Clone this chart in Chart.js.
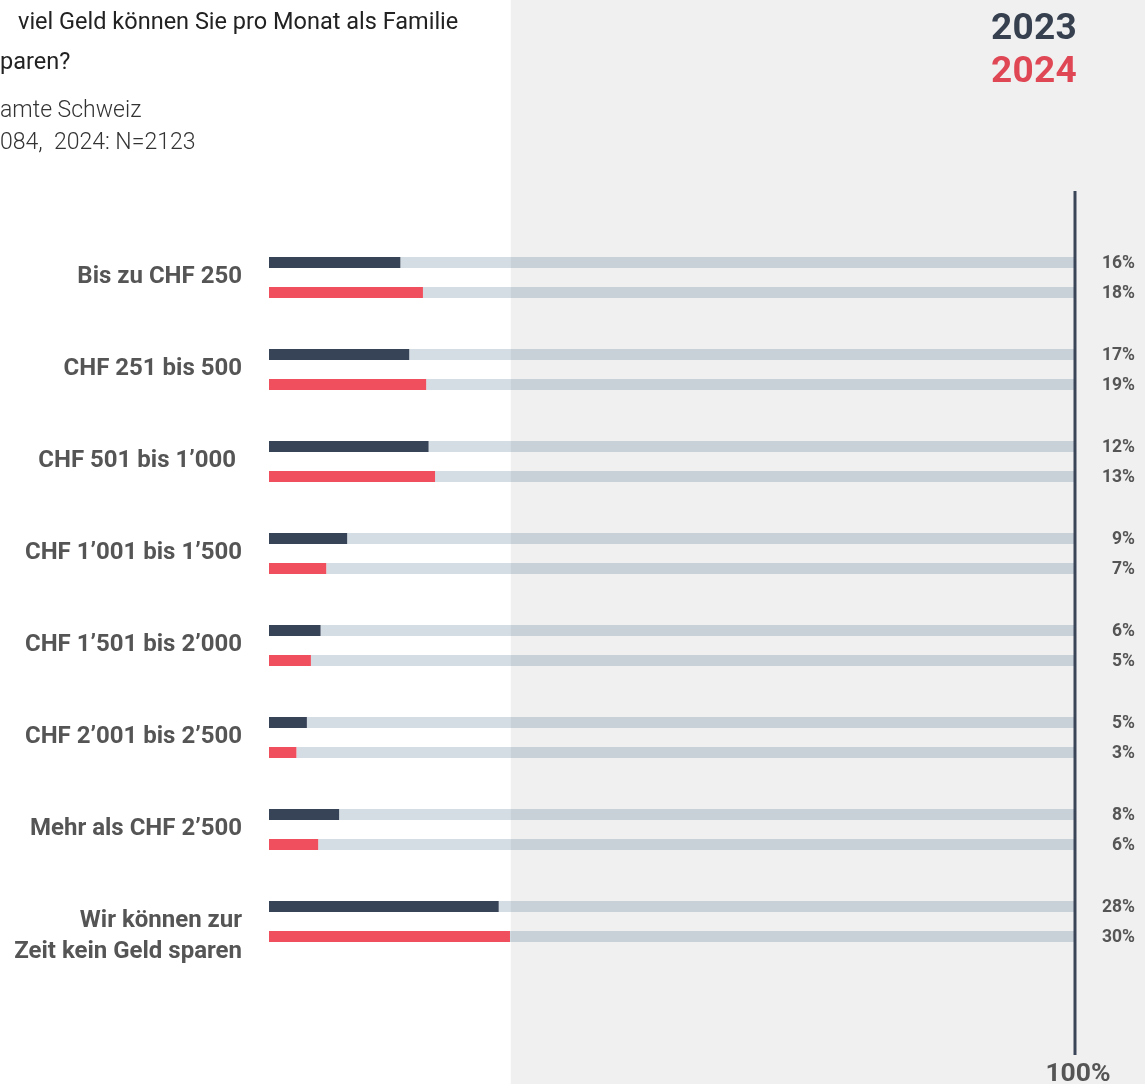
<!DOCTYPE html>
<html>
<head>
<meta charset="utf-8">
<script src="https://cdn.jsdelivr.net/npm/chart.js@4"></script>
<style>
html,body{margin:0;padding:0;background:#fff;}
#wrap{position:relative;width:1145px;height:1084px;overflow:hidden;}
canvas{position:absolute;left:0;top:0;}
.t{position:absolute;font-family:Roboto,"Open Sans",sans-serif;white-space:pre;line-height:1;}
.title{font-size:23.5px;color:#222;font-weight:400;}
.sub{font-size:23px;color:#333;font-weight:300;}
.leg{font-size:37px;font-weight:700;letter-spacing:0.3px;}
</style>
</head>
<body>
<div id="wrap">
<canvas id="c" width="1145" height="1084"></canvas>
<div class="t title" style="left:18px;top:10px;">viel Geld können Sie pro Monat als Familie</div>
<div class="t title" style="left:0px;top:50px;">paren?</div>
<div class="t sub" style="left:0px;top:98px;">amte Schweiz</div>
<div class="t sub" style="left:0px;top:130px;">084,  2024: N=2123</div>
<div class="t leg" style="left:991px;top:8px;color:#36404f;">2023</div>
<div class="t leg" style="left:991px;top:51px;color:#e04755;">2024</div>
</div>
<script>
const categories = [
  'Bis zu CHF 250',
  'CHF 251 bis 500',
  'CHF 501 bis 1’000 ',
  'CHF 1’001 bis 1’500',
  'CHF 1’501 bis 2’000',
  'CHF 2’001 bis 2’500',
  'Mehr als CHF 2’500',
  ['', 'Wir können zur', 'Zeit kein Geld sparen']
];
const seriesNames = ['2023', '2024'];
// bar lengths as drawn in the picture (percent of full scale)
const values2023 = [16.3, 17.4, 19.8, 9.7, 6.4, 4.7, 8.7, 28.5];
const values2024 = [19.1, 19.5, 20.6, 7.1, 5.2, 3.4, 6.1, 29.9];
// value labels as printed
const labels2023 = ['16%', '17%', '12%', '9%', '6%', '5%', '8%', '28%'];
const labels2024 = ['18%', '19%', '13%', '7%', '5%', '3%', '6%', '30%'];
const scaleMax = 100;
const panelStart = 30;
const endTickLabel = '100%';

const COL23 = '#374357';
const COL24 = '#f0505e';
const TRACK = 'rgba(40,80,120,0.2)';
const FONT = 'Roboto, "Open Sans", sans-serif';

const rest = arr => arr.map(v => scaleMax - v);

const decor = {
  id: 'decor',
  beforeDraw(chart) {
    const {ctx, scales: {x}} = chart;
    const px = x.getPixelForValue(panelStart);
    ctx.save();
    ctx.fillStyle = '#f0f0f0';
    ctx.fillRect(px, 0, chart.width - px, chart.height);
    ctx.restore();
  },
  afterDatasetsDraw(chart) {
    const {ctx, chartArea, scales: {x}} = chart;
    const px = x.getPixelForValue(scaleMax);
    ctx.save();
    ctx.strokeStyle = '#3a4558';
    ctx.lineWidth = 3;
    ctx.beginPath();
    ctx.moveTo(px, chartArea.top - 48);
    ctx.lineTo(px, chartArea.bottom + 80);
    ctx.stroke();
    // value labels
    ctx.font = '700 17.5px ' + FONT;
    ctx.fillStyle = '#555';
    ctx.textAlign = 'right';
    ctx.textBaseline = 'middle';
    const m23 = chart.getDatasetMeta(0), m24 = chart.getDatasetMeta(2);
    m23.data.forEach((b, i) => ctx.fillText(labels2023[i], px + 60, b.y + 1));
    m24.data.forEach((b, i) => ctx.fillText(labels2024[i], px + 60, b.y + 1));
    ctx.font = '700 26.5px ' + FONT;
    ctx.textAlign = 'center';
    ctx.fillText(endTickLabel, px + 3, chartArea.bottom + 99);
    ctx.restore();
  }
};

new Chart(document.getElementById('c'), {
  type: 'bar',
  data: {
    labels: categories,
    datasets: [
      {label: seriesNames[0], data: values2023, backgroundColor: COL23, stack: 's23'},
      {label: seriesNames[0] + ' rest', data: rest(values2023), backgroundColor: TRACK, stack: 's23'},
      {label: seriesNames[1], data: values2024, backgroundColor: COL24, stack: 's24'},
      {label: seriesNames[1] + ' rest', data: rest(values2024), backgroundColor: TRACK, stack: 's24'}
    ]
  },
  options: {
    indexAxis: 'y',
    responsive: false,
    animation: false,
    maintainAspectRatio: false,
    categoryPercentage: 0.652,
    barPercentage: 0.734,
    layout: {padding: {left: 0, right: 70, top: 239, bottom: 109}},
    plugins: {legend: {display: false}, tooltip: {enabled: false}, title: {display: false}},
    scales: {
      x: {
        stacked: true, min: 0, max: scaleMax,
        display: false
      },
      y: {
        stacked: false,
        grid: {display: false},
        border: {display: false},
        ticks: {
          color: '#555',
          font: {family: FONT, size: 24, weight: '700', lineHeight: 1.3},
          padding: 19,
          labelOffset: -8,
          autoSkip: false
        },
        afterFit(scale) { scale.width = 269; }
      }
    }
  },
  plugins: [decor]
});
</script>
</body>
</html>
